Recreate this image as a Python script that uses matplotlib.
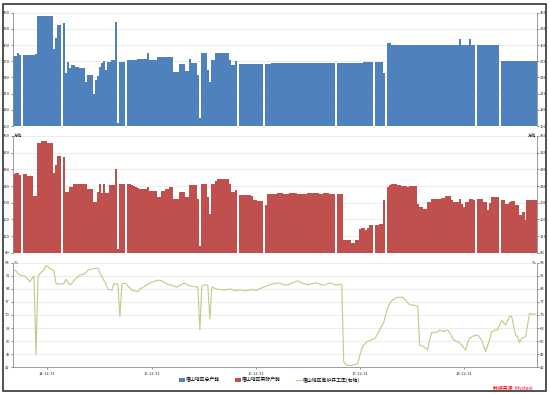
import matplotlib
matplotlib.use("Agg")
import matplotlib.pyplot as plt
import matplotlib.dates as mdates
from matplotlib.patches import Rectangle
import numpy as np
import pandas as pd

plt.rcParams['font.family'] = ['Noto Sans CJK SC', 'DejaVu Sans']

# weekly series, first week ending 2014-09-05
start_week = '2014-09-05'

# blue bars: total capacity (万吨), None = no data that week
capacity = [
    280, 280, 285, 282, None, 282, 282, 282, 282, 282,
    282, 283, 354, 354, 354, 354, 354, 354, 354, 354,
    292, 314, 337, 337, None, 340, 249, 269, 257, 263,
    263, 260, 259, 257, 257, 257, 232, 245, 245, 245,
    209, 235, 243, 260, 266, 271, 254, 269, 269, 272,
    272, 343, 155, 269, 269, 269, None, 272, 272, 272,
    272, 272, 274, 274, 274, 274, 274, 286, 272, 272,
    272, 272, 277, 277, 277, 277, 277, 277, 277, 277,
    251, 251, 251, 264, 264, 264, 252, 252, 274, 267,
    267, 267, 245, 164, 285, 285, 285, 254, 232, 272,
    272, 285, 285, 285, 285, 285, 285, 285, 272, 263,
    263, 270, None, 264, 264, 264, 264, 264, 264, 264,
    264, 264, 264, 264, 264, None, 265, 265, 265, 266,
    266, 266, 266, 266, 266, 266, 266, 266, 266, 266,
    266, 266, 266, 266, 266, 266, 266, 266, 266, 266,
    266, 266, 266, 266, 266, 266, 266, 266, 266, 266,
    266, None, 266, 266, 266, 266, 266, 266, 266, 266,
    266, 266, 266, 266, 266, 268, 268, 268, 268, 268,
    None, 268, 268, 268, 268, 249, None, 303, 303, 300,
    301, 301, 301, 301, 301, 301, 301, 301, 301, 301,
    301, 301, 301, 301, 301, 301, 301, 301, 301, 301,
    301, 301, 301, 301, 301, 301, 301, 301, 301, 301,
    301, 301, 301, 312, 301, 301, 301, 301, 312, 301,
    301, None, 301, 301, 301, 301, 301, 301, 301, 301,
    301, 301, 301, None, 270, 270, 270, 270, 270, 270,
    270, 270, 270, 270, 270, 270, 270, 270, 270, 270, 270, 270,
]

# red bars: actual output capacity (万吨)
output = [
    268, 272, 272, 266, None, 270, 270, 264, 264, 264,
    216, 216, 344, 344, 347, 347, 347, 344, 344, 344,
    272, 290, 312, 312, None, 309, 226, 226, 237, 237,
    244, 244, 244, 244, 244, 244, 244, 234, 234, 234,
    202, 202, 226, 245, 224, 244, 224, 224, 242, 242,
    242, 282, 90, 246, 246, 246, None, 246, 244, 242,
    240, 238, 236, 234, 232, 232, 232, 238, 229, 229,
    229, 229, 214, 214, 229, 229, 232, 232, 237, 237,
    210, 210, 210, 226, 226, 226, 214, 214, 242, 242,
    242, 242, 210, 96, 246, 246, 246, 214, 174, 246,
    246, 253, 256, 256, 256, 256, 256, 256, 245, 226,
    226, 230, None, 218, 218, 218, 218, 218, 218, 216,
    206, 206, 204, 204, 204, None, 194, 221, 221, 221,
    222, 222, 224, 224, 224, 222, 222, 222, 224, 224,
    224, 224, 222, 222, 222, 220, 220, 224, 224, 224,
    224, 224, 224, 222, 222, 224, 224, 224, 222, 222,
    222, None, 222, 220, 220, 110, 110, 110, 110, 104,
    104, 110, 110, 138, 140, 140, 134, 140, 146, 146,
    None, 146, 146, 150, 150, 206, None, 238, 242, 244,
    244, 244, 242, 242, 240, 240, 240, 238, 240, 240,
    240, 240, 198, 190, 190, 186, 186, 202, 202, 209,
    209, 209, 209, 209, 212, 212, 216, 216, 216, 206,
    202, 202, 202, 210, 198, 190, 202, 202, 208, 208,
    206, None, 208, 208, 208, 202, 202, 182, 200, 214,
    214, 214, 214, None, 206, 206, 198, 198, 202, 205,
    205, 194, 194, 170, 170, 178, 158, 206, 206, 206, 206, 206,
]

# line: blast furnace utilisation (%)
util = [
    94.0, 93.7, 92.0, 91.4, 91.0, 90.9, 90.2, 89.0, 87.8, 89.6,
    90.9, 48.6, 90.2, 92.3, 93.2, 94.1, 96.4, 96.0, 95.0, 94.3,
    93.7, 86.9, 86.6, 86.6, 86.6, 86.9, 89.1, 87.5, 86.1, 87.0,
    88.5, 89.6, 90.5, 91.4, 91.6, 91.9, 92.8, 94.1, 94.3, 94.6,
    94.8, 95.0, 95.0, 92.6, 90.5, 88.5, 86.9, 83.7, 83.5, 83.4,
    86.9, 86.6, 86.6, 69.1, 86.9, 86.9, 86.9, 85.5, 84.5, 83.4,
    83.0, 82.7, 82.5, 84.0, 84.5, 85.0, 86.0, 86.5, 87.0, 87.5,
    88.0, 88.3, 88.6, 88.6, 88.2, 87.6, 87.0, 86.4, 86.0, 86.0,
    85.5, 85.0, 85.2, 85.8, 86.5, 87.0, 86.6, 86.0, 85.5, 85.3,
    85.2, 85.0, 85.0, 62.0, 85.5, 86.0, 86.2, 85.8, 68.0, 85.0,
    84.5, 84.0, 83.8, 83.6, 83.5, 83.4, 83.5, 83.7, 84.0, 83.6,
    83.3, 83.0, 83.2, 83.5, 83.3, 83.0, 83.0, 83.2, 83.5, 83.6,
    83.4, 83.2, 83.5, 84.0, 84.5, 85.0, 85.3, 85.8, 86.2, 86.5,
    86.8, 87.0, 87.2, 87.0, 86.6, 86.2, 86.0, 86.2, 86.6, 87.0,
    87.5, 88.0, 88.2, 87.8, 87.2, 86.8, 86.5, 86.2, 86.4, 86.8,
    87.0, 87.2, 87.0, 86.6, 86.2, 86.0, 86.3, 86.8, 87.0, 86.8,
    86.4, 86.0, 86.2, 86.5, 86.0, 45.0, 43.5, 43.0, 43.0, 43.0,
    43.5, 43.5, 44.0, 48.0, 52.0, 54.0, 55.0, 56.0, 56.0, 57.0,
    57.0, 58.0, 60.0, 62.0, 64.0, 66.0, 70.0, 74.0, 76.0, 77.5,
    78.5, 79.0, 79.5, 79.5, 79.5, 79.0, 78.0, 76.5, 75.5, 75.3,
    75.3, 75.0, 74.8, 54.0, 53.5, 53.1, 52.2, 51.3, 56.6, 60.5,
    60.7, 60.8, 60.9, 62.0, 61.5, 61.1, 61.5, 62.0, 60.5, 58.5,
    56.6, 56.2, 55.7, 55.0, 54.0, 52.5, 51.3, 55.0, 57.5, 58.2,
    58.8, 59.0, 59.3, 58.0, 56.6, 53.5, 50.4, 53.5, 56.6, 61.1,
    61.5, 62.0, 62.0, 64.5, 67.3, 66.0, 64.6, 67.0, 69.1, 69.5,
    64.0, 59.3, 58.4, 55.2, 57.5, 58.0, 58.4, 64.5, 70.9, 70.4, 70.5, 70.5,
]

labels = ['唐山地区总产能', '唐山地区实际产能', '唐山地区高炉开工率(右轴)']
source = '数据来源: Mysteel'

cap_ticks = [150, 180, 210, 240, 270, 300, 330, 360]
out_ticks = [80, 120, 160, 200, 240, 280, 320, 360]
util_ticks = [42, 49, 56, 63, 70, 77, 84, 91, 98]

dates = pd.date_range(start_week, periods=len(capacity), freq='7D')
cap = np.array(capacity, dtype=float)
out = np.array(output, dtype=float)
ut = np.array(util, dtype=float)

blue = '#4f81bd'
red = '#c0504d'
green = '#bccb86'
spine_c = '#8c8c8c'

fig = plt.figure(figsize=(5.5, 3.94), dpi=100)
left, width = 13 / 550, 524 / 550
ax1 = fig.add_axes([left, 1 - 126 / 394, width, 113.3 / 394])
ax2 = fig.add_axes([left, 1 - 252.7 / 394, width, 116.7 / 394])
ax3 = fig.add_axes([left, 1 - 367.3 / 394, width, 104.6 / 394])

x0 = dates[0] - pd.Timedelta(days=3.5)
x1 = dates[-1] + pd.Timedelta(days=5)

ax1.bar(dates, cap, width=7.6, color=blue, linewidth=0, label=labels[0])
ax2.bar(dates, out, width=7.6, color=red, linewidth=0, label=labels[1])
ax3.plot(dates, ut, color=green, lw=0.8, label=labels[2])

for ax, ticks in ((ax1, cap_ticks), (ax2, out_ticks), (ax3, util_ticks)):
    ax.set_xlim(x0, x1)
    ax.set_ylim(ticks[0], ticks[-1])
    ax.set_yticks(ticks)
    ax.grid(axis='y', color='#e6e6e6', lw=0.5)
    ax.set_axisbelow(True)
    ax.tick_params(axis='y', labelsize=3, length=1.2, width=0.4, pad=1,
                   right=True, labelright=True, colors='#333333')
    for s in ('left', 'right'):
        ax.spines[s].set_color(spine_c)
        ax.spines[s].set_linewidth(0.6)
    ax.spines['top'].set_visible(False)
    ax.xaxis.set_major_locator(mdates.MonthLocator(bymonth=12, bymonthday=31))
    ax.xaxis.set_major_formatter(mdates.DateFormatter('%y-%m-%d'))

for ax in (ax1, ax2):
    ax.spines['bottom'].set_visible(False)
    ax.tick_params(axis='x', bottom=False, labelbottom=False)

ax3.spines['bottom'].set_color(spine_c)
ax3.spines['bottom'].set_linewidth(0.6)
ax3.tick_params(axis='x', labelsize=3, length=1.5, width=0.4, pad=2, colors='#333333')

# units near the top tick labels
ax2.text(0.002, 1.0, '万吨', transform=ax2.transAxes, fontsize=3, ha='left', va='center')
ax2.text(0.998, 1.0, '万吨', transform=ax2.transAxes, fontsize=3, ha='right', va='center')
ax3.text(0.002, 1.0, '%', transform=ax3.transAxes, fontsize=3, ha='left', va='center')
ax3.text(0.998, 1.0, '%', transform=ax3.transAxes, fontsize=3, ha='right', va='center')

handles = [ax1.containers[0], ax2.containers[0], ax3.lines[0]]
fig.legend(handles, labels, loc='center', bbox_to_anchor=(0.49, 1 - 380 / 394), ncol=3,
           fontsize=3.5, frameon=False, handlelength=1.2, handleheight=0.9,
           columnspacing=3, handletextpad=0.3)

fig.text(533 / 550, 1 - 388 / 394, source, color='red', fontsize=3.5, ha='right',
         va='center', style='italic')

fig.patches.append(Rectangle((3 / 550, 3 / 394), 543 / 550, 387 / 394, transform=fig.transFigure,
                             fill=False, edgecolor='#333333', lw=1.2))

fig.savefig('out.png', dpi=100)
